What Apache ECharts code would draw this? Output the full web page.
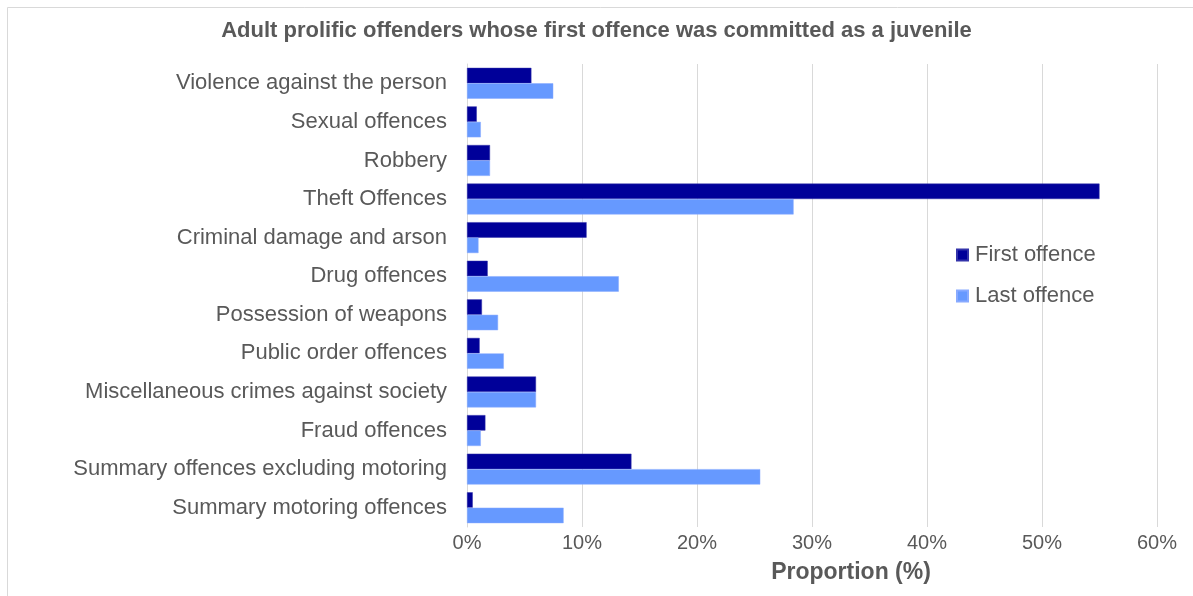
<!DOCTYPE html>
<html>
<head>
<meta charset="utf-8">
<script src="https://cdn.jsdelivr.net/npm/echarts@6/dist/echarts.min.js"></script>
<style>
  html, body { margin: 0; padding: 0; background: #fff; }
  #chart { width: 1193px; height: 596px; }
</style>
</head>
<body>
<div id="chart"></div>
<script>
// Offence groups, top to bottom
const categories = [
  'Violence against the person',
  'Sexual offences',
  'Robbery',
  'Theft Offences',
  'Criminal damage and arson',
  'Drug offences',
  'Possession of weapons',
  'Public order offences',
  'Miscellaneous crimes against society',
  'Fraud offences',
  'Summary offences excluding motoring',
  'Summary motoring offences'
];

// Share of offenders (%) by type of first and last offence
const firstOffence = [5.6, 0.85, 2.0, 55.0, 10.4, 1.8, 1.3, 1.1, 6.0, 1.6, 14.3, 0.5];
const lastOffence  = [7.5, 1.2, 2.0, 28.4, 1.0, 13.2, 2.7, 3.2, 6.0, 1.2, 25.5, 8.4];

const tickValues = [0, 10, 20, 30, 40, 50, 60];

const font = '"Liberation Sans", Arial, sans-serif';
const textColor = '#595959';

const chart = echarts.init(document.getElementById('chart'), null, { renderer: 'canvas' });

chart.setOption({
  backgroundColor: '#ffffff',
  animation: false,
  title: {
    text: 'Adult prolific offenders whose first offence was committed as a juvenile',
    left: 'center',
    top: 15,
    textStyle: { fontFamily: font, fontSize: 22, fontWeight: 'bold', color: textColor }
  },
  legend: {
    orient: 'vertical',
    left: 951,
    top: 239,
    icon: 'rect',
    itemWidth: 11,
    itemHeight: 11,
    itemGap: 19,
    textStyle: { fontFamily: font, fontSize: 22, color: textColor, padding: [0, 0, 0, 2] },
    data: ['First offence', 'Last offence']
  },
  grid: { left: 467, right: 36, top: 64, bottom: 69, containLabel: false },
  xAxis: {
    type: 'value',
    min: tickValues[0],
    max: tickValues[tickValues.length - 1],
    interval: 10,
    name: 'Proportion (%)',
    nameLocation: 'middle',
    nameGap: 34,
    nameTextStyle: { fontFamily: font, fontSize: 23, fontWeight: 'bold', color: textColor, padding: [0, 0, 0, 78] },
    axisLine: { show: false },
    axisTick: { show: false },
    axisLabel: { formatter: '{value}%', fontFamily: font, fontSize: 20, color: textColor, margin: 6 },
    splitLine: { show: true, lineStyle: { color: '#d9d9d9', width: 1 } }
  },
  yAxis: {
    type: 'category',
    inverse: true,
    data: categories,
    axisLine: { show: true, lineStyle: { color: '#d9d9d9', width: 1 } },
    axisTick: { show: false },
    axisLabel: { fontFamily: font, fontSize: 22, color: textColor, margin: 20 }
  },
  series: [
    {
      name: 'First offence',
      type: 'bar',
      data: firstOffence,
      barGap: '0%',
      barCategoryGap: '20%',
      itemStyle: { color: '#000099', borderColor: '#3333aa', borderWidth: 0.5 }
    },
    {
      name: 'Last offence',
      type: 'bar',
      data: lastOffence,
      barGap: '0%',
      barCategoryGap: '20%',
      itemStyle: { color: '#6699ff', borderColor: '#88aaff', borderWidth: 0.5 }
    }
  ],
  graphic: [
    {
      type: 'rect',
      shape: { x: 7.5, y: 7.5, width: 1200, height: 600 },
      style: { fill: 'none', stroke: '#d9d9d9', lineWidth: 1 },
      silent: true
    }
  ]
});
</script>
</body>
</html>
